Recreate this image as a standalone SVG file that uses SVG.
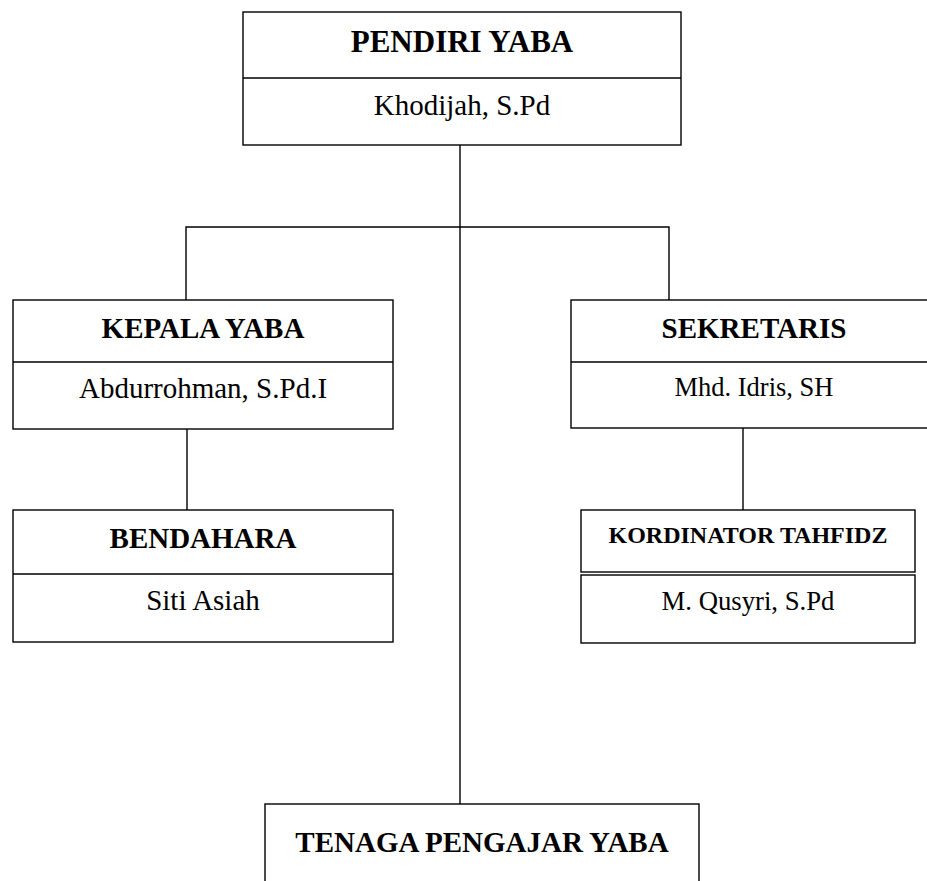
<svg xmlns="http://www.w3.org/2000/svg" width="927" height="881" viewBox="0 0 927 881">
<style>
.box{fill:#fff;stroke:#000;stroke-width:1.4}
.ln{stroke:#000;stroke-width:1.4;fill:none}
.t{font-family:"Liberation Serif","Times New Roman",serif;text-anchor:middle;fill:#000}
.b{font-weight:bold}
</style>
<rect width="927" height="881" fill="#fff"/>
<g id="connectors">
<line class="ln" x1="460" y1="145" x2="460" y2="804"/>
<polyline class="ln" points="186,300 186,227 669,227 669,300"/>
<line class="ln" x1="187" y1="429" x2="187" y2="510"/>
<line class="ln" x1="743" y1="428" x2="743" y2="510"/>
</g>
<g id="pendiri">
<rect class="box" x="243" y="12" width="438" height="133"/>
<line class="ln" x1="243" y1="78" x2="681" y2="78"/>
<text class="t b" x="462" y="52" font-size="31">PENDIRI YABA</text>
<text class="t" x="462" y="115" font-size="29">Khodijah, S.Pd</text>
</g>
<g id="kepala">
<rect class="box" x="13" y="300" width="380" height="129"/>
<line class="ln" x1="13" y1="362" x2="393" y2="362"/>
<text class="t b" x="203" y="338" font-size="29">KEPALA YABA</text>
<text class="t" x="203" y="398" font-size="29">Abdurrohman, S.Pd.I</text>
</g>
<g id="bendahara">
<rect class="box" x="13" y="510" width="380" height="132"/>
<line class="ln" x1="13" y1="574" x2="393" y2="574"/>
<text class="t b" x="203" y="548" font-size="29">BENDAHARA</text>
<text class="t" x="203" y="610" font-size="29">Siti Asiah</text>
</g>
<g id="sekretaris">
<rect class="box" x="571" y="300" width="366" height="128"/>
<line class="ln" x1="571" y1="362" x2="937" y2="362"/>
<text class="t b" x="754" y="338" font-size="29">SEKRETARIS</text>
<text class="t" x="754" y="396" font-size="26.5">Mhd. Idris, SH</text>
</g>
<g id="kordinator">
<rect class="box" x="581" y="510" width="334" height="62"/>
<rect class="box" x="581" y="575" width="334" height="68"/>
<text class="t b" x="748" y="543" font-size="24">KORDINATOR TAHFIDZ</text>
<text class="t" x="748" y="610" font-size="26.7">M. Qusyri, S.Pd</text>
</g>
<g id="tenaga">
<rect class="box" x="265" y="804" width="434" height="100"/>
<text class="t b" x="482" y="852" font-size="29">TENAGA PENGAJAR YABA</text>
</g>
</svg>
